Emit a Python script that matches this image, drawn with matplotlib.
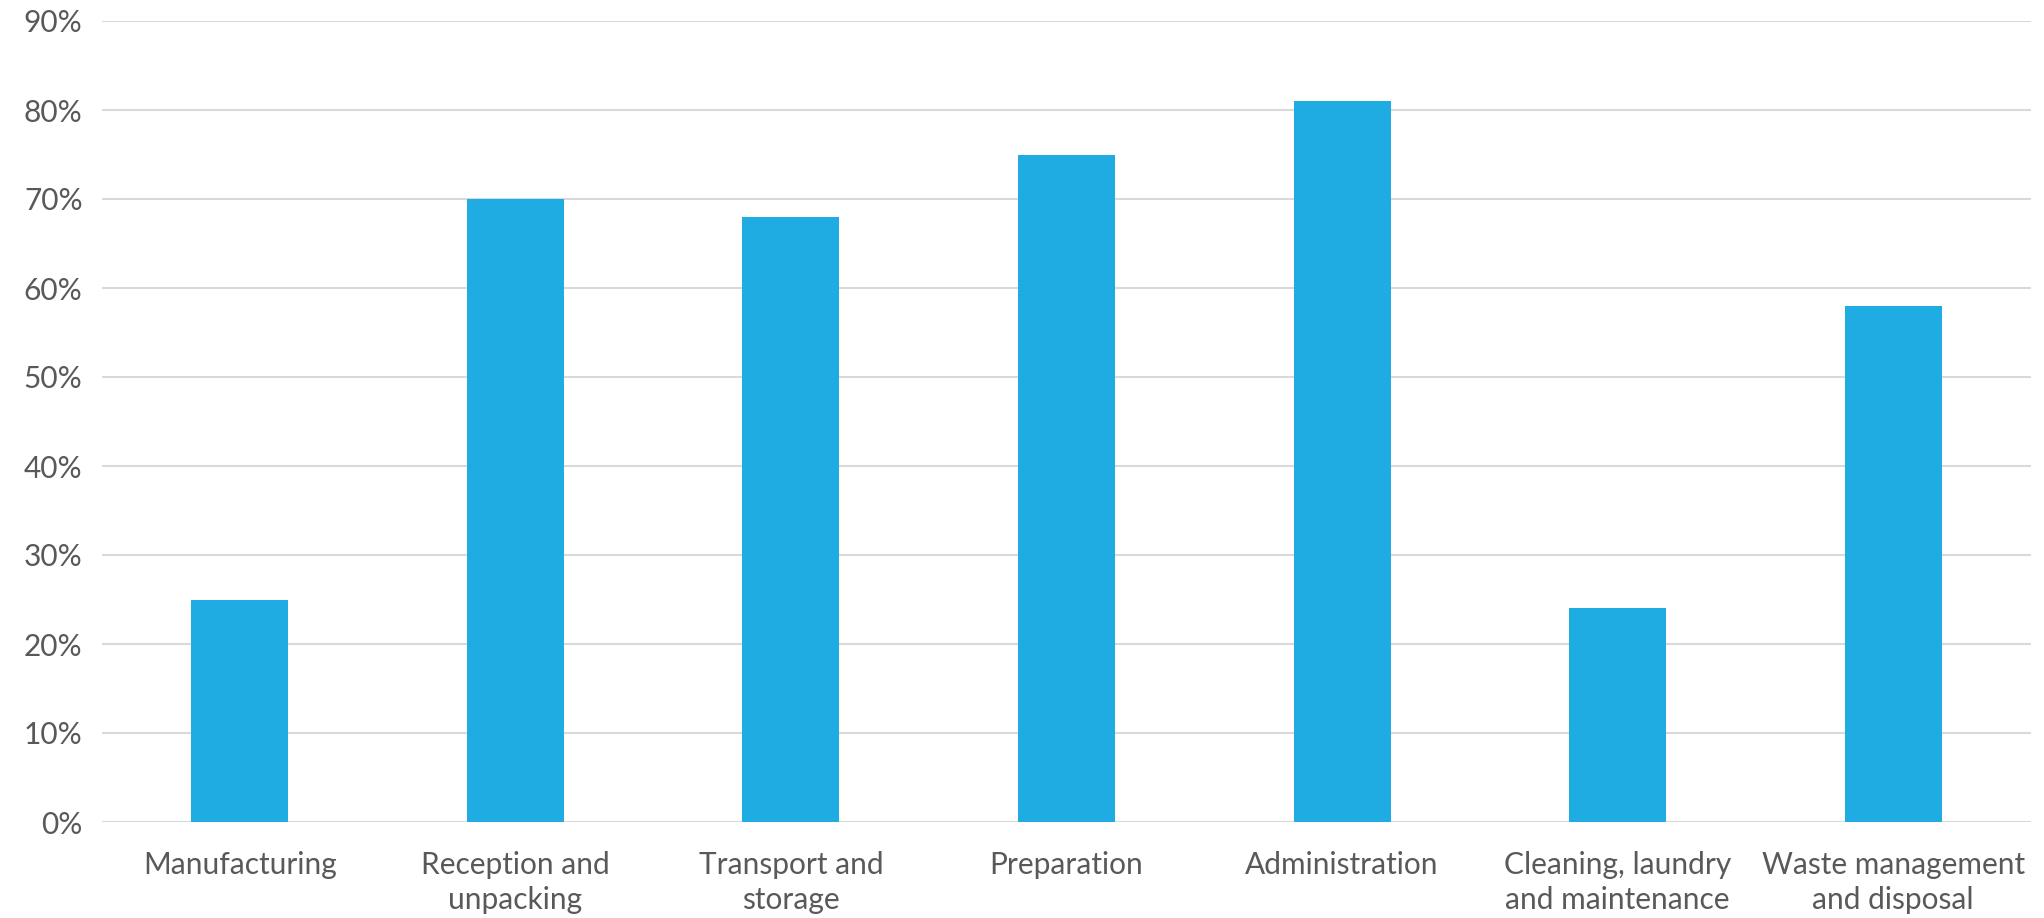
import matplotlib.pyplot as plt
from matplotlib.ticker import PercentFormatter

# data
categories = ["Manufacturing", "Reception and\nunpacking", "Transport and\nstorage",
              "Preparation", "Administration", "Cleaning, laundry\nand maintenance",
              "Waste management\nand disposal"]
values = [25, 70, 68, 75, 81, 24, 58]
yticks = [0, 10, 20, 30, 40, 50, 60, 70, 80, 90]

plt.rcParams['font.family'] = ['Lato', 'DejaVu Sans']

fig = plt.figure(figsize=(20.44, 9.18), dpi=100)
ax = fig.add_axes([102 / 2044, 1 - 822 / 918, (2031 - 102) / 2044, (822 - 21) / 918])

x = range(len(categories))
ax.bar(x, values, width=0.352, color="#1FACE3", zorder=3)

ax.set_xlim(-0.5, len(categories) - 0.5)
ax.set_ylim(0, 90)
ax.set_yticks(yticks)
ax.yaxis.set_major_formatter(PercentFormatter(decimals=0))
ax.set_xticks(list(x))
ax.set_xticklabels(categories, linespacing=1.3)

ax.grid(axis="y", color="#d9d9d9", linewidth=1.5, zorder=0)
for s in ax.spines.values():
    s.set_visible(False)
ax.tick_params(axis="both", length=0, labelsize=21.5, colors="#595959")
ax.tick_params(axis="y", pad=14)
ax.tick_params(axis="x", pad=21)

plt.savefig("out.png", dpi=100)
